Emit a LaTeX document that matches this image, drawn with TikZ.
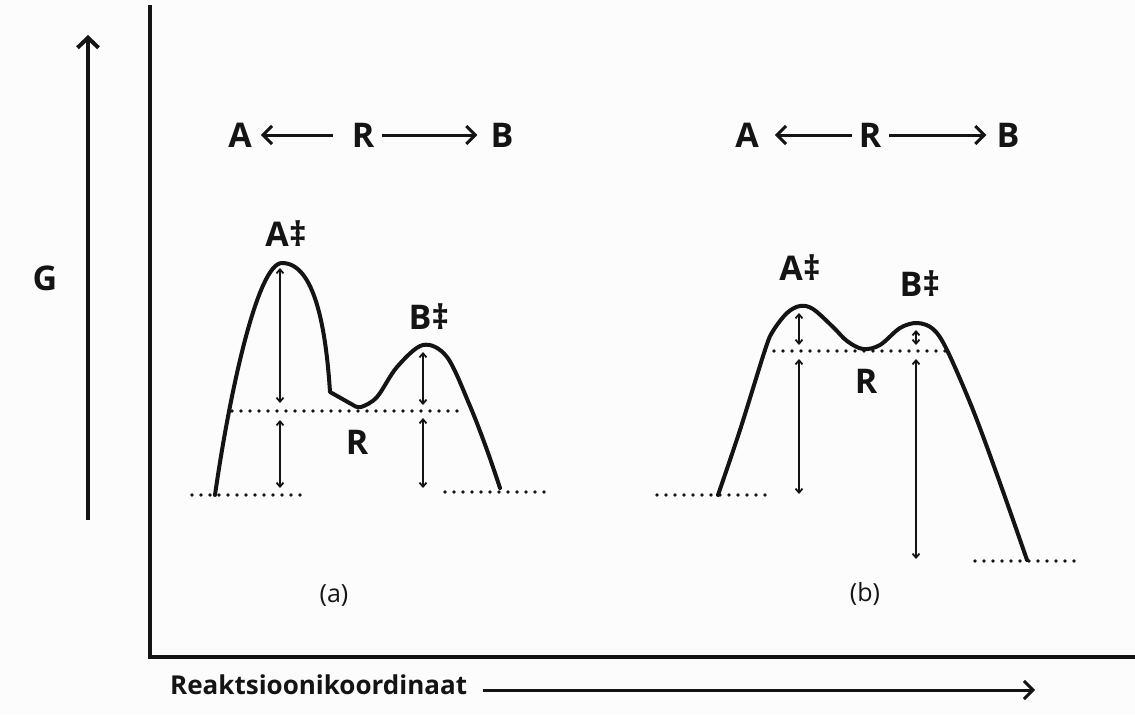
\documentclass[tikz,border=0pt]{standalone}
\usepackage{fontspec}
\setmainfont{Open Sans}
\usetikzlibrary{arrows.meta}
\definecolor{bg}{RGB}{252,252,252}
\definecolor{ink}{RGB}{20,20,20}
\begin{document}
\begin{tikzpicture}[x=1pt,y=-1pt,
  lbl/.style={font=\fontsize{34}{36}\selectfont\bfseries, inner sep=0pt, text=ink},
  sub/.style={font=\fontsize{25}{27}\selectfont, inner sep=0pt, text=ink},
  xlbl/.style={font=\fontsize{26}{28}\selectfont\bfseries, inner sep=0pt, text=ink},
  curve/.style={draw=ink, line width=4pt, line join=round, line cap=round},
  dots/.style={draw=ink, line width=3.8pt, line cap=round, dash pattern=on 0pt off 9pt},
  meas/.style={draw=ink, line width=1.8pt, {Straight Barb[length=4pt,width=7pt]}-{Straight Barb[length=4pt,width=7pt]}},
  axis/.style={draw=ink, line width=4pt},
  bigarrow/.style={draw=ink, line width=4pt, -{Straight Barb[length=10pt,width=21pt]}},
  rxarrow/.style={draw=ink, line width=3pt, -{Straight Barb[length=9pt,width=18pt]}}
]
\fill[bg] (0,0) rectangle (1135,715);
\useasboundingbox (0,0) rectangle (1135,715);

% axes
\coordinate (ytop) at (150,5);
\coordinate (orig) at (150,657);
\coordinate (xend) at (1135,657);
\draw[axis] (ytop) -- (orig) -- (xend);

% G arrow
\coordinate (g0) at (88,520);
\coordinate (g1) at (88,35);
\draw[bigarrow] (g0) -- (g1);
\node[lbl] (G) at (45,278) {G};

% x label
\node[xlbl, anchor=base west] (xl) at (170,694) {Reaktsioonikoordinaat};
\coordinate (x0) at (483,690);
\coordinate (x1) at (1035,690);
\draw[rxarrow] (x0) -- (x1);

% ---------- panel (a) ----------
\node[lbl] (Aa) at (240,135) {A};
\node[lbl] (Ra) at (363,135) {R};
\node[lbl] (Ba) at (502,135) {B};
\draw[rxarrow, shorten <=19pt, shorten >=9pt] (Ra) -- (Aa);
\draw[rxarrow, shorten <=8pt, shorten >=13pt] (Ra) -- (Ba);

\node[lbl] (ATa) at (286,234) {A‡};
\node[lbl] (BTa) at (429,317) {B‡};
\node[lbl] (Rla) at (357,442) {R};
\node[sub] (la) at (334,596) {(a)};

\draw[dots] (192,495) -- (302,495);
\draw[dots] (445,492) -- (548,492);
\draw[dots] (232,411) -- (465,411);

\draw[curve] (215,495) .. controls (230,390) and (258,263) .. (282,263)
  .. controls (315,263) and (326,330) .. (330,392)
  -- plot[smooth, tension=0.55] coordinates {(353,405) (361,407) (377,397) (397,367) (423,345) (447,357) (470,406) (487,450) (500,488)};

\draw[meas] (280,268) -- (280,403);
\draw[meas] (280,420) -- (280,488);
\draw[meas] (423,352) -- (423,405);
\draw[meas] (423,418) -- (423,488);

% ---------- panel (b) ----------
\node[lbl] (Ab) at (747,135) {A};
\node[lbl] (Rb) at (870,135) {R};
\node[lbl] (Bb) at (1008,135) {B};
\draw[rxarrow, shorten <=7pt, shorten >=16pt] (Rb) -- (Ab);
\draw[rxarrow, shorten <=8pt, shorten >=10pt] (Rb) -- (Bb);

\node[lbl] (ATb) at (800,268) {A‡};
\node[lbl] (BTb) at (920,284) {B‡};
\node[lbl] (Rlb) at (866,381) {R};
\node[sub] (lb) at (865,594) {(b)};

\draw[dots] (657,495) -- (768,495);
\draw[dots] (975,561) -- (1078,561);
\draw[dots] (765,351) -- (947,351);

\draw[curve] plot[smooth, tension=0.55] coordinates {(718,495) (740,430) (765,350) (773,331) (787,313) (800,306) (813,309) (833,327) (847,341) (863,349) (880,345) (900,328) (917,323) (933,329) (947,350) (973,410) (1000,483) (1027,560)};

\draw[meas] (799,313) -- (799,345);
\draw[meas] (799,359) -- (799,494);
\draw[meas] (916,330) -- (916,345);
\draw[meas] (916,359) -- (916,559);
\end{tikzpicture}
\end{document}
